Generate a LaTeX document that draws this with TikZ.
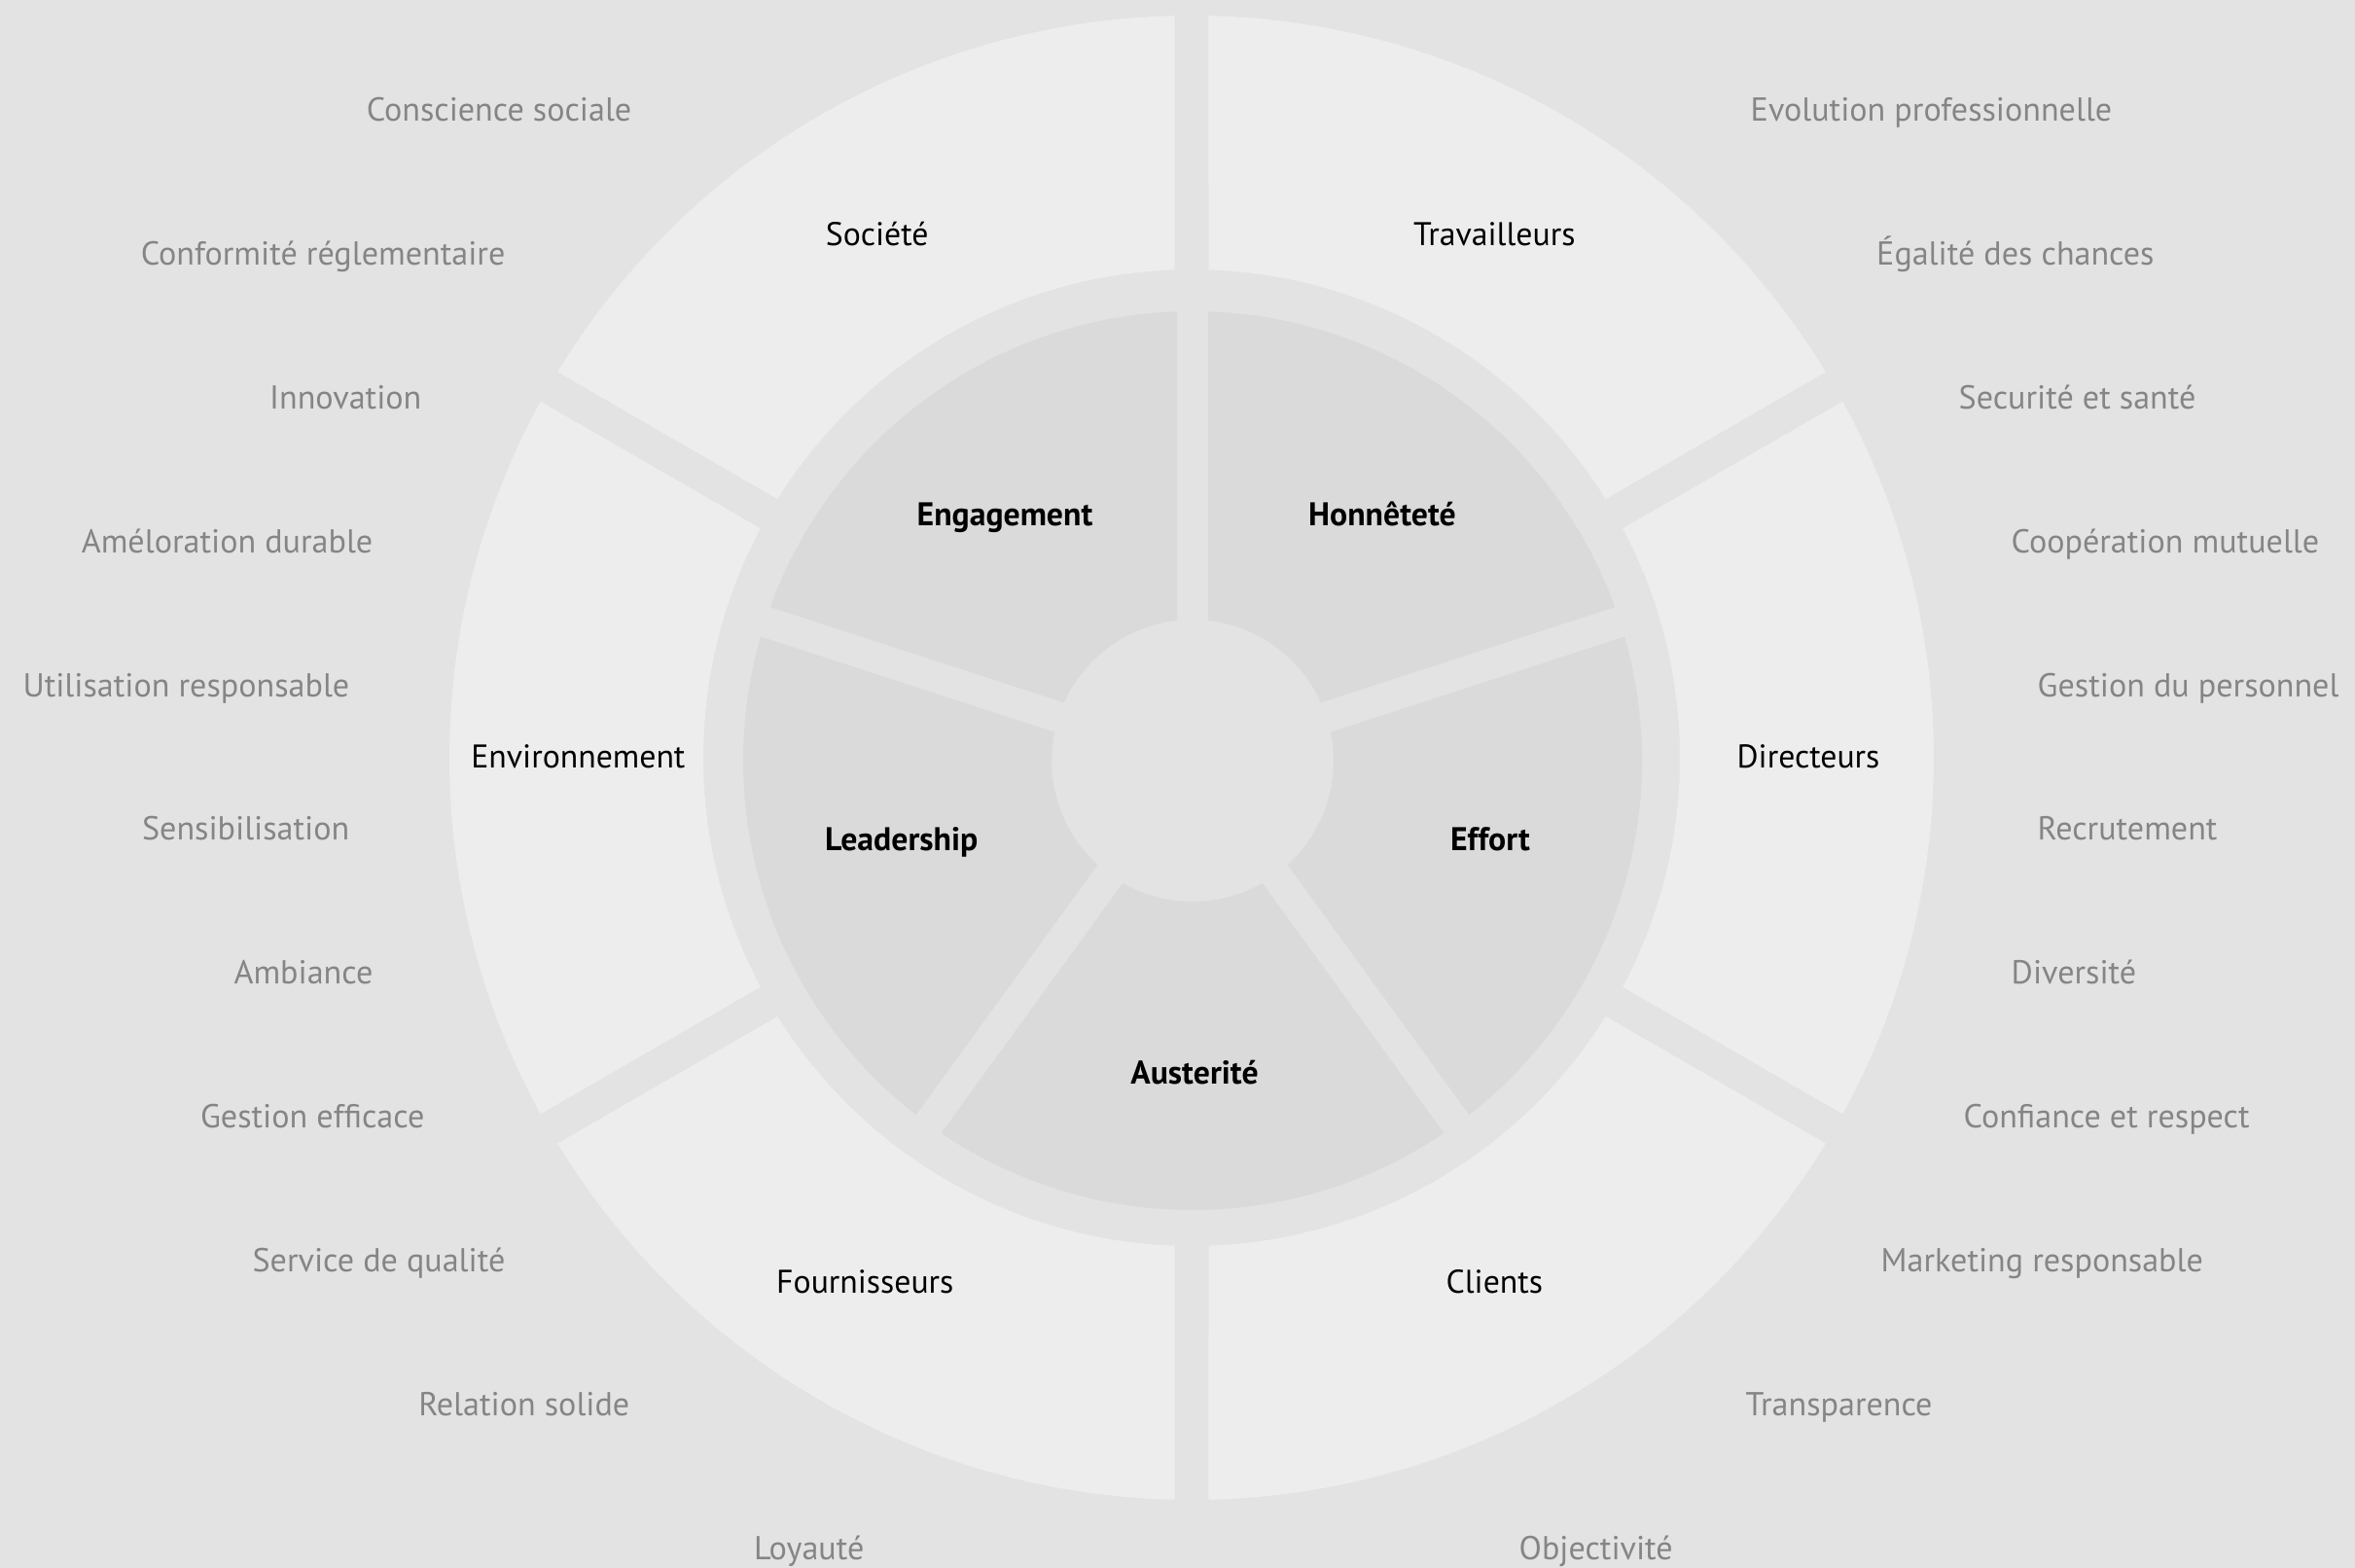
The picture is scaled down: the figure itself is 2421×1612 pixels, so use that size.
\documentclass[tikz,border=0pt]{standalone}
\usepackage{fontspec}
\setmainfont{PT Sans}
\definecolor{bgc}{HTML}{E3E3E3}
\definecolor{outc}{HTML}{EDEDED}
\definecolor{innc}{HTML}{DADADA}
\definecolor{lblc}{HTML}{858585}
\begin{document}
\begin{tikzpicture}[x=0.01cm,y=0.01cm,
  item/.style={font=\fontsize{9.7}{11}\selectfont, text=lblc, inner sep=0pt},
  itemL/.style={item, anchor=base east},
  itemR/.style={item, anchor=base west},
  group/.style={font=\fontsize{9.6}{11}\selectfont, text=black, inner sep=0pt, anchor=base},
  value/.style={font=\fontsize{9.6}{11}\selectfont\bfseries, text=black, inner sep=0pt, anchor=base}]
\fill[bgc] (0,0) rectangle (2421,1612);
\useasboundingbox (0,0) rectangle (2421,1612);
\begin{scope}[shift={(1225,833)}]
  % outer ring segments
  \foreach \s in {30,90,150,210,270,330}{
    \pgfmathsetmacro\ai{\s+asin(17.5/502)}
    \pgfmathsetmacro\ao{\s+asin(17.5/763)}
    \pgfmathsetmacro\bo{\s+60-asin(17.5/763)}
    \pgfmathsetmacro\bi{\s+60-asin(17.5/502)}
    \fill[outc] (\ai:502) -- (\ao:763) arc[start angle=\ao,end angle=\bo,radius=763]
      -- (\bi:502) arc[start angle=\bi,end angle=\ai,radius=502] -- cycle;
  }
\end{scope}
\begin{scope}[shift={(1226,830)}]
  % inner sectors
  \foreach \s in {18,90,162,234,306}{
    \pgfmathsetmacro\ai{\s+asin(16/145)}
    \pgfmathsetmacro\ao{\s+asin(16/462)}
    \pgfmathsetmacro\bo{\s+72-asin(16/462)}
    \pgfmathsetmacro\bi{\s+72-asin(16/145)}
    \fill[innc] (\ai:145) -- (\ao:462) arc[start angle=\ao,end angle=\bo,radius=462]
      -- (\bi:145) arc[start angle=\bi,end angle=\ai,radius=145] -- cycle;
  }
\end{scope}
% outer segment labels
\node[group] (soc) at (901.7,1359.5) {Société};
\node[group] (trav) at (1536.3,1359.5) {Travailleurs};
\node[group] (dir) at (1859,822.5) {Directeurs};
\node[group] (cli) at (1536.3,282) {Clients};
\node[group] (four) at (889.3,282) {Fournisseurs};
\node[group] (env) at (594.4,822.5) {Environnement};
% inner labels
\node[value] (eng) at (1033,1071) {Engagement};
\node[value] (hon) at (1421,1071) {Honnêteté};
\node[value] (lead) at (926.7,737) {Leadership};
\node[value] (eff) at (1532,737) {Effort};
\node[value] (aus) at (1228,497.5) {Austerité};
% left items
\node[itemL] (l1) at (650,1487.5) {Conscience sociale};
\node[itemL] (l2) at (520,1339.6) {Conformité réglementaire};
\node[itemL] (l3) at (434,1191.7) {Innovation};
\node[itemL] (l4) at (384,1043.8) {Améloration durable};
\node[itemL] (l5) at (360,895.9) {Utilisation responsable};
\node[itemL] (l6) at (360,748) {Sensibilisation};
\node[itemL] (l7) at (384,600.1) {Ambiance};
\node[itemL] (l8) at (437,452.2) {Gestion efficace};
\node[itemL] (l9) at (520,304.3) {Service de qualité};
\node[itemL] (l10) at (648,156.4) {Relation solide};
\node[itemL] (l11) at (889,8.5) {Loyauté};
% right items
\node[itemR] (r1) at (1799,1487.5) {Evolution professionnelle};
\node[itemR] (r2) at (1928.5,1339.6) {Égalité des chances};
\node[itemR] (r3) at (2013,1191.7) {Securité et santé};
\node[itemR] (r4) at (2067,1043.8) {Coopération mutuelle};
\node[itemR] (r5) at (2094,895.9) {Gestion du personnel};
\node[itemR] (r6) at (2094,748) {Recrutement};
\node[itemR] (r7) at (2067,600.1) {Diversité};
\node[itemR] (r8) at (2018,452.2) {Confiance et respect};
\node[itemR] (r9) at (1933,304.3) {Marketing responsable};
\node[itemR] (r10) at (1794,156.4) {Transparence};
\node[itemR] (r11) at (1561,8.5) {Objectivité};
\end{tikzpicture}
\end{document}
